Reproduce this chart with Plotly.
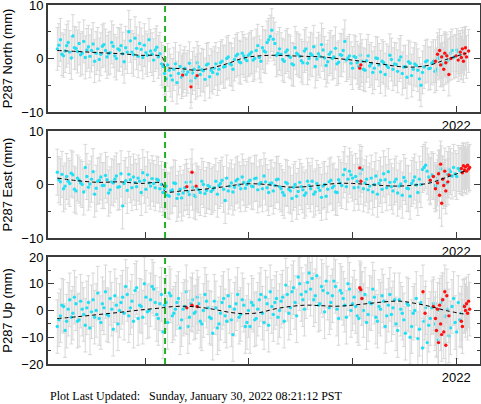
import plotly.graph_objects as go

# ---------------- data ----------------
# decimal-year epochs of the cyan (cleaned) solutions, first set
TIMES = [
    2018.15, 2018.18, 2018.21, 2018.24, 2018.27, 2018.30, 2018.33, 2018.36, 2018.39, 2018.42,
    2018.45, 2018.48, 2018.51, 2018.54, 2018.57, 2018.60, 2018.63, 2018.66, 2018.69, 2018.72,
    2018.75, 2018.78, 2018.81, 2018.84, 2018.87, 2018.90, 2018.93, 2018.96, 2018.99, 2019.02,
    2019.05, 2019.08, 2019.11, 2019.14,
    2019.17, 2019.20, 2019.23, 2019.26, 2019.29, 2019.32, 2019.35, 2019.38, 2019.41, 2019.44,
    2019.47, 2019.50, 2019.53, 2019.56, 2019.59, 2019.62,
    2019.65, 2019.68, 2019.71, 2019.74, 2019.77, 2019.80, 2019.83, 2019.86, 2019.89, 2019.92,
    2019.95, 2019.98,
    2020.01, 2020.04, 2020.07, 2020.10, 2020.13, 2020.16, 2020.19, 2020.22, 2020.25, 2020.28,
    2020.31, 2020.34, 2020.37, 2020.40, 2020.43, 2020.46, 2020.49, 2020.52, 2020.55, 2020.58,
    2020.61, 2020.64, 2020.67, 2020.70, 2020.73, 2020.76, 2020.79, 2020.82, 2020.85, 2020.88,
    2020.91, 2020.94, 2020.97, 2021.00,
    2021.03, 2021.06, 2021.09, 2021.12, 2021.15, 2021.18, 2021.21, 2021.24, 2021.27, 2021.30,
    2021.33, 2021.36, 2021.39, 2021.42, 2021.45, 2021.48, 2021.51, 2021.54, 2021.57, 2021.60,
    2021.63, 2021.66, 2021.69, 2021.72,
    2021.75, 2021.78, 2021.81, 2021.84, 2021.87, 2021.90, 2021.93, 2021.96, 2021.99, 2022.02,
    2022.05, 2022.08,
]

NORTH = [
    1.8, 3.5, 0.5, 2.4, 1.2, 4.2, 1.9, 2.8, 1.0, 0.2, 2.2, 1.5, -0.5, 1.8, 0.8, 2.6, 0.3,
    1.1, 2.3, 0.0, 1.6, 0.9, 2.0, 5.0, 1.2, 3.8, 0.4, 1.7, 2.5, 0.6, 1.4, -0.3, 2.1, 0.9,
    -1.5, -3.8, -2.2, -4.0, -1.0, -2.8, -3.5, -1.8, -2.5, -4.2, -2.0, -0.8, -3.0, -2.3, -1.2, -3.4,
    -2.6, -1.0, -2.0, -0.5, -1.5, 0.3, -1.2, -0.2, 0.8, -0.8, 0.5, -0.4,
    0.9, -0.3, 1.5, 0.2, 2.0, 1.2, 3.5, 5.3, 2.8, 1.0,
    0.8, -0.5, 1.6, 0.2, -1.2, 1.0, 0.4, -0.8, 1.8, 0.0, 0.6, -1.5, 0.9, 2.6, 0.1, -0.6,
    1.2, 0.3, -1.0, 0.7, 1.5, -0.3, 0.5, -1.8,
    0.2, -1.5, -0.5, -2.2, 0.5, -1.0, -1.8, 0.0, -2.5, -0.8, -1.3, 0.6, -2.0, -1.1, -0.3, -2.8,
    -1.5, -0.6, -3.2, -1.0, -2.2, -5.0, -1.6, -0.4,
    -1.8, -0.5, -2.0, 0.3, -1.0, 0.8, -0.2, 1.5, 0.4, 1.2, 0.0, 1.8,
]

EAST = [
    2.3, 0.5, -0.8, 1.5, 0.2, 1.8, -1.2, 0.8, 0.0, 3.2, -0.5, 1.0, -1.8, 0.6, 1.4, -0.2, 0.9,
    -1.0, 0.3, 1.6, -0.4, -4.0, 0.7, 1.9, -0.6, 0.4, 1.2, -1.5, 0.8, 1.8, -0.3, 0.2, 1.0, -0.8,
    -1.5, -0.3, -2.2, -1.0, 0.2, -1.8, -2.5, -0.6, -1.3, 0.5, -2.0, -0.8, -1.5, 0.0, -1.1, -0.4,
    -1.0, 0.6, -0.2, 0.8, -3.0, -1.2, 0.3, -0.5, 1.0, -0.8, 0.4, 0.0,
    0.8, -0.4, 1.2, 0.1, -0.8, 0.5, -1.5, 0.3, -0.2, 1.0,
    -0.8, -2.0, 0.2, -1.2, -0.5, -2.2, 0.4, -1.0, -1.6, -0.2, 0.6, -1.4, -0.6, -2.4, 0.0, -0.9,
    0.8, -0.3, -1.5, 0.3, 1.8, -0.4, 2.5, 1.2,
    1.5, -0.5, 2.8, 0.3, -1.0, 1.2, 0.0, -1.8, 0.8, 2.0, -0.6, 0.4, -1.2, 1.0, -0.3, -2.0,
    0.6, -0.8, 0.2, 1.4, -1.5, 0.0, 3.2, 2.5,
    0.5, 1.5, -0.5, 2.2, 1.0, 0.2, 2.8, 1.6, 2.0, 3.0, 2.4, 2.8,
]

UP = [
    -6.0, -2.0, 1.5, -4.0, 4.0, -1.0, 2.5, -3.5, 0.5, -5.5, 3.0, -0.5, -2.5, 6.5, -4.5, 1.0,
    -1.5, 4.5, -7.0, 2.0, 0.0, 5.0, 9.0, -2.0, 3.5, 7.5, -3.0, 1.5, 10.0, -0.5, 4.0, 8.0, -1.5, 2.5,
    -8.0, 3.0, 6.5, -2.0, 0.5, 4.5, -3.5, 1.5, -6.0, 2.5, -1.0, 5.0, -4.0, 0.0, 3.5, -2.5,
    -8.5, 1.0, -5.0, 3.0, -2.0, 5.5, -3.5, 0.5, 6.0, -1.5, 2.0, -4.5,
    -6.0, 2.0, -3.0, 4.0, -1.0, 5.0, -5.5, 1.5, 3.0, -2.5,
    3.5, -4.0, 6.0, 1.0, 8.5, -2.0, 10.0, 4.0, 7.0, 14.0, 12.0, 5.5, 2.0, 9.0, -0.5, 6.5,
    3.0, 11.0, 0.5, 7.5, 4.5, -2.5, 8.0, 2.5,
    1.5, -3.0, 4.5, 6.0, -1.5, 2.5, 5.0, -4.0, 0.5, 3.5, -2.0, 6.0, 1.0, -5.0, 4.0, -1.0,
    -8.5, 2.0, -6.0, 0.0, -10.5, 3.0, -4.0, -12.0,
    -3.0, 2.5, -7.0, 0.0, 4.0, -2.0, -9.5, 1.5, -4.5, 3.0, -1.0, 2.0,
]

# second, interleaved set of cyan epochs
TIMES2 = [
    2018.165, 2018.195, 2018.225, 2018.255, 2018.285, 2018.315, 2018.345, 2018.375, 2018.405,
    2018.435, 2018.465, 2018.495, 2018.525, 2018.555, 2018.585, 2018.615, 2018.645, 2018.675,
    2018.705, 2018.735, 2018.765, 2018.795, 2018.825, 2018.855, 2018.885, 2018.915, 2018.945,
    2018.975, 2019.005, 2019.035, 2019.065, 2019.095, 2019.125, 2019.155,
    2019.185, 2019.215, 2019.245, 2019.275, 2019.305, 2019.335, 2019.365, 2019.395, 2019.425,
    2019.455, 2019.485, 2019.515, 2019.545, 2019.575, 2019.605, 2019.635,
    2019.665, 2019.695, 2019.725, 2019.755, 2019.785, 2019.815, 2019.845, 2019.875, 2019.905,
    2019.935, 2019.965, 2019.995,
    2020.025, 2020.055, 2020.085, 2020.115, 2020.145, 2020.175, 2020.205, 2020.235, 2020.265,
    2020.295,
    2020.325, 2020.355, 2020.385, 2020.415, 2020.445, 2020.475, 2020.505, 2020.535, 2020.565,
    2020.595, 2020.625, 2020.655, 2020.685, 2020.715, 2020.745, 2020.775, 2020.805, 2020.835,
    2020.865, 2020.895, 2020.925, 2020.955, 2020.985, 2021.015,
    2021.045, 2021.075, 2021.105, 2021.135, 2021.165, 2021.195, 2021.225, 2021.255, 2021.285,
    2021.315, 2021.345, 2021.375, 2021.405, 2021.435, 2021.465, 2021.495, 2021.525, 2021.555,
    2021.585, 2021.615, 2021.645, 2021.675, 2021.705, 2021.735,
    2021.765, 2021.795, 2021.825, 2021.855, 2021.885, 2021.915, 2021.945, 2021.975, 2022.005,
    2022.035, 2022.065,
]

NORTH2 = [
    2.5, 0.8, 1.4, 3.0, 0.1, 2.0, 1.3, 0.7, 3.2, 1.6, 0.4, 2.7, 1.0, -0.2, 2.3, 1.5, 0.9,
    3.0, 0.5, 1.8, 2.4, -0.6, 1.2, 3.3, 0.7, 1.9, 2.8, 0.2, 1.1, 3.5, 0.8, 1.6, 0.3, -1.0,
    -2.8, -1.2, -3.2, -2.0, -4.5, -1.5, -2.4, -3.0, -0.9, -2.7, -3.6, -1.6, -2.1, -3.9, -1.0, -2.2,
    -1.8, -2.9, -0.8, -1.6, 0.0, -1.0, -2.0, 0.5, -0.6, 1.0, -0.1, 0.6,
    1.2, 0.0, 2.4, -0.5, 1.4, 3.0, 4.1, 3.6, 0.6, 1.8,
    -0.2, 1.2, 0.5, -1.0, 2.0, 0.7, -0.4, 1.4, -0.9, 0.9, 2.2, -0.1, 0.4, 1.6, -1.3, 0.8,
    0.0, 1.9, -0.7, 0.6, 3.2, 0.1, -0.9, 0.4,
    -0.8, 0.6, -2.0, -0.4, -1.4, -2.6, 0.1, -1.2, -0.5, -3.0, -1.7, -0.2, -1.0, -2.4, 0.3, -1.6,
    -3.5, -0.9, -2.0, -1.3, -3.8, -2.6, -0.6, -1.9,
    -0.9, -2.4, 0.0, -1.3, 0.6, -0.5, 1.0, 0.2, 1.6, 0.7, 1.3,
]

EAST2 = [
    0.9, 1.9, -0.3, 0.6, 2.1, -0.9, 1.2, 0.3, -1.4, 1.5, 0.1, 2.4, -0.7, 0.8, -0.2, 1.7, -1.6,
    0.5, 1.0, -0.5, 2.0, 0.2, -1.1, 0.9, 1.4, -0.4, 0.6, 2.2, -0.9, 0.3, 1.1, -0.6, 0.8, 0.0,
    -0.8, -2.0, -1.2, 0.3, -2.6, -0.9, -1.6, 0.4, -1.9, -0.5, -2.3, -1.0, 0.6, -1.7, -0.2, -1.3,
    -0.6, -1.8, 0.2, -0.9, 1.2, -0.3, -1.4, 0.7, -0.1, 1.4, -0.7, 0.5,
    -0.3, 1.1, -1.0, 0.4, 1.6, -0.6, 0.2, -1.2, 0.9, -0.4,
    -1.5, 0.4, -0.9, -2.6, 0.0, -1.3, -0.4, -2.0, 0.6, -0.8, -1.8, 0.2, -1.1, -0.3, -2.2, 0.5,
    -0.6, -1.4, 0.9, -0.2, 2.8, 1.0, 1.8, -0.6,
    0.6, 2.0, -0.8, 1.0, -0.3, -1.4, 1.6, 0.2, -0.9, 0.9, 2.4, -0.4, 0.5, -1.6, 0.1, 1.3,
    -0.7, -2.2, 0.7, -0.1, 1.0, 2.8, 3.6, 1.4,
    1.8, -0.2, 1.2, 2.9, 0.4, 1.9, 2.4, 3.2, 1.5, 2.6, 3.4,
]

UP2 = [
    -3.5, 2.0, -7.5, 0.5, -2.5, 5.0, -4.0, 3.5, -1.5, 1.0, -6.5, 4.0, 0.0, -3.0, 2.5, 7.0,
    -2.0, 0.5, 5.5, -5.0, 3.0, -1.0, 6.0, 1.0, -4.0, 8.5, 2.0, -2.5, 5.0, 0.0, 9.0, 3.0, -3.0, 6.0,
    2.0, -4.5, 5.5, -1.0, 3.0, -6.5, 0.5, 7.0, -2.5, 4.0, -0.5, 2.5, -5.0, 6.0, 1.0, -3.0,
    3.5, -6.5, -1.0, 4.5, -4.0, 1.5, -9.0, 2.5, -2.5, 4.0, -6.0, 0.0,
    3.0, -3.5, 0.5, 6.0, -4.5, 2.5, 7.0, -1.5, 4.5, 0.0,
    5.0, 9.5, -1.0, 7.0, 3.0, 12.5, 6.0, 0.5, 10.5, 8.0, 4.0, 13.0, 2.5, 7.5, 11.0, 1.0,
    5.5, 9.0, -3.0, 6.5, 2.0, 10.0, 0.0, 5.0,
    -2.0, 7.0, 0.0, -4.5, 3.0, 8.0, -2.5, 1.5, 5.5, -6.0, 2.0, -1.5, 4.0, -7.5, 0.5, -3.5,
    2.5, -10.0, -1.0, 4.5, -7.0, -14.0, 1.0, -5.5,
    1.0, -5.0, -11.0, 3.0, -2.5, 0.5, -6.5, 4.5, -8.0, -3.5, 1.5,
]

# red (rapid / flagged) solutions
RED_N_T = [2019.36, 2019.44, 2019.50, 2021.07, 2021.08, 2021.80, 2021.82, 2021.84, 2021.85,
           2021.86, 2021.88, 2021.89, 2021.90, 2021.91, 2021.93, 2021.95, 2022.00, 2022.02,
           2022.04, 2022.05, 2022.06, 2022.07, 2022.08, 2022.09, 2022.10, 2022.12]
RED_N = [-3.1, -5.3, -3.2, -1.8, -1.2, -0.5, 0.8, 1.5, -1.2, 0.3, -2.0, 1.0, -0.8, 0.5,
         -3.0, 0.0, 0.5, -0.3, 1.2, 0.2, 1.8, -0.5, 0.9, 2.0, 0.3, 1.4]

RED_E_T = [2019.40, 2019.45, 2019.49, 2021.07, 2021.08, 2021.75, 2021.78, 2021.80, 2021.82,
           2021.83, 2021.84, 2021.85, 2021.86, 2021.87, 2021.88, 2021.89, 2021.90, 2021.92,
           2021.93, 2022.05, 2022.06, 2022.07, 2022.08, 2022.09, 2022.10, 2022.11, 2022.12, 2022.13]
RED_E = [-0.4, 2.3, -0.3, 3.1, 0.6, 0.8, 1.5, -0.8, 0.3, 2.0, -2.0, 3.8, -3.5, 1.0, -0.2,
         2.5, -1.2, 0.5, 1.8, 3.0, 2.2, 3.5, 2.7, 3.3, 2.5, 3.6, 2.9, 3.2]

RED_U_T = [2019.40, 2019.45, 2019.50, 2021.07, 2021.08, 2021.09, 2021.68, 2021.70, 2021.78,
           2021.80, 2021.81, 2021.82, 2021.83, 2021.84, 2021.85, 2021.86, 2021.87, 2021.88,
           2021.89, 2021.90, 2021.91, 2021.93, 2022.05, 2022.06, 2022.08, 2022.09, 2022.10,
           2022.11, 2022.12, 2022.13]
RED_U = [1.0, 2.0, 1.5, 8.5, 7.8, 4.5, 7.0, -1.0, 1.5, -3.0, -7.5, 0.5, -12.0, 2.0, -5.0,
         -9.0, 4.0, -8.0, 7.0, -13.0, 5.5, -2.0, -4.0, -6.0, 1.5, 0.0, 2.5, -1.0, 3.5, 0.5]

# one-sigma uncertainties (mm)
SIGMA_N = 4.0
SIGMA_E = 4.3
SIGMA_U = 10.0

# model (dashed black) curves
MODEL_T = [2018.15, 2018.35, 2018.55, 2018.75, 2018.95, 2019.16, 2019.19, 2019.35, 2019.50,
           2019.65, 2019.80, 2019.95, 2020.10, 2020.25, 2020.40, 2020.55, 2020.70, 2020.85,
           2021.00, 2021.15, 2021.30, 2021.45, 2021.60, 2021.75, 2021.90, 2022.10]
MODEL_N = [1.5, 1.3, 1.1, 0.9, 0.6, 0.3, -1.5, -1.9, -2.2, -1.7, -0.9, 0.1, 0.5, 0.6, 0.5,
           0.4, 0.3, 0.0, -0.3, -0.7, -1.1, -1.5, -1.6, -1.2, -0.2, 1.0]
MODEL_E = [1.2, 0.7, 0.4, 0.5, 0.2, 0.2, -1.3, -1.2, -1.0, -0.7, -0.3, 0.1, 0.1, -0.2, -0.5,
           -0.4, -0.1, 0.2, 0.2, 0.0, -0.2, -0.3, -0.1, 0.3, 1.3, 2.6]
MODEL_U = [-3.0, -2.3, -1.5, -0.7, 0.2, 1.0, 1.2, 1.6, 1.3, 0.5, -0.6, -1.2, -0.8, 0.6,
           1.5, 2.0, 1.8, 1.6, 2.0, 2.6, 3.2, 3.5, 2.7, 1.5, 0.0, -1.5]

EVENT_T = 2019.19           # green dashed line
X_TICKS = [2019, 2020, 2021, 2022]
X_TICK_TEXT = ["", "", "", "2022"]

PANELS = [
    ("P287 North (mm)", NORTH + NORTH2, RED_N_T, RED_N, SIGMA_N, MODEL_N,
     [-10, 10], [-10, 0, 10], 5),
    ("P287 East (mm)", EAST + EAST2, RED_E_T, RED_E, SIGMA_E, MODEL_E,
     [-10, 10], [-10, 0, 10], 5),
    ("P287 Up (mm)", UP + UP2, RED_U_T, RED_U, SIGMA_U, MODEL_U,
     [-20, 20], [-20, -10, 0, 10, 20], 5),
]
ALL_TIMES = TIMES + TIMES2

FOOTER = "Plot Last Updated:   Sunday, January 30, 2022 08:21:12 PST"

# ---------------- figure ----------------
W, H = 481, 404
CYAN = "#22e0f4"
RED = "#ff1010"
ERR = "#d8d8d8"
FRAME = "#3a3a3a"
SANS = "Liberation Sans, Arial, sans-serif"

# panel pixel boxes (top, bottom)
boxes = [(5, 112), (131, 238), (257, 364)]
x_dom = [48 / W, 480 / W]

fig = go.Figure()
layout = dict(
    width=W, height=H, margin=dict(l=0, r=0, t=0, b=0, autoexpand=False),
    paper_bgcolor="white", plot_bgcolor="white", showlegend=False,
    font=dict(family=SANS, size=13, color="black"),
)

for i, (title, vals, rt, rv, sig, model, yr, yt, minor) in enumerate(PANELS):
    n = i + 1
    xa = "x" if n == 1 else f"x{n}"
    ya = "y" if n == 1 else f"y{n}"
    top, bot = boxes[i]
    layout[f"xaxis{'' if n == 1 else n}"] = dict(
        domain=x_dom, anchor=ya, range=[2018.06, 2022.23], automargin=False,
        tickvals=X_TICKS, ticktext=X_TICK_TEXT, ticks="inside", ticklen=6,
        tickcolor=FRAME, tickwidth=1, showgrid=False, zeroline=False,
        showline=True, linecolor=FRAME, linewidth=2, mirror=True,
        tickfont=dict(family=SANS, size=13), ticklabeloverflow="allow", fixedrange=True,
    )
    layout[f"yaxis{'' if n == 1 else n}"] = dict(
        domain=[(H - bot) / H, (H - top) / H], anchor=xa, range=yr, automargin=False,
        tickvals=yt, ticks="inside", ticklen=6, tickcolor=FRAME, tickwidth=1,
        minor=dict(dtick=minor, tick0=0, ticks="inside", ticklen=3, tickcolor=FRAME),
        showgrid=False, zeroline=False, showline=True, linecolor=FRAME, linewidth=2,
        mirror="ticks", tickfont=dict(family=SANS, size=13), ticklabeloverflow="allow",
        title=dict(text=title, font=dict(family=SANS, size=13), standoff=6),
        fixedrange=True,
    )
    err_style = dict(type="constant", value=sig, color=ERR, thickness=1, width=2)
    fig.add_trace(go.Scatter(
        x=ALL_TIMES, y=vals, mode="markers", xaxis=xa, yaxis=ya,
        marker=dict(color=CYAN, size=3.4, line=dict(width=0)),
        error_y=err_style, hoverinfo="skip"))
    fig.add_trace(go.Scatter(
        x=rt, y=rv, mode="markers", xaxis=xa, yaxis=ya,
        marker=dict(color=RED, size=3.4, line=dict(width=0)),
        error_y=err_style, hoverinfo="skip"))
    fig.add_trace(go.Scatter(
        x=MODEL_T, y=model, mode="lines", xaxis=xa, yaxis=ya,
        line=dict(color="black", width=1, dash="4px,3px", shape="spline"),
        hoverinfo="skip"))
    fig.add_shape(type="line", xref=xa, yref=f"{ya} domain", x0=EVENT_T, x1=EVENT_T,
                  y0=0, y1=1, line=dict(color="#22b022", width=2, dash="6px,4px"))

layout["annotations"] = [dict(
    text=FOOTER, xref="paper", yref="paper", x=48 / W, y=(H - 396) / H,
    xanchor="left", yanchor="middle", showarrow=False,
    font=dict(family="Liberation Serif, Times New Roman, serif", size=12, color="black"),
)]
fig.update_layout(**layout)
fig.write_html("out.html", config={"displayModeBar": False},
               post_script="document.body.style.margin='0px';")
